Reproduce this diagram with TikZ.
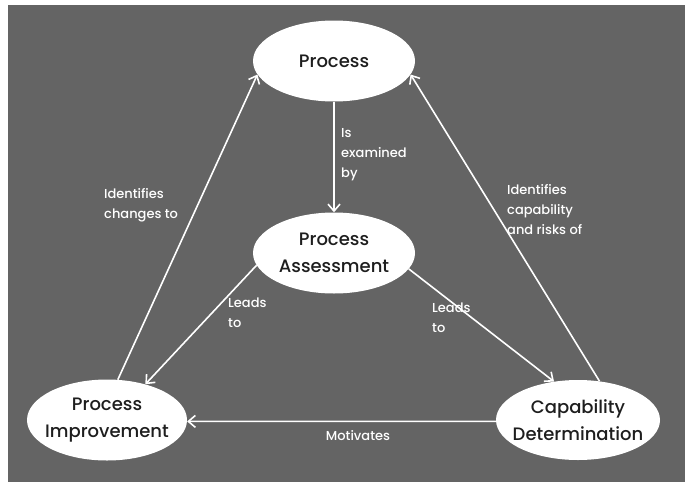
\documentclass[tikz,border=0pt]{standalone}
\usepackage{fontspec}
\setmainfont{Poppins}
\newfontfamily\phasefont{Poppins Medium}
\usetikzlibrary{arrows.meta,shapes.geometric}
\definecolor{bggray}{RGB}{100,100,100}
\definecolor{inktext}{RGB}{30,30,30}
\begin{document}
\begin{tikzpicture}[x=1pt,y=-1pt,
  phase/.style={ellipse, fill=white, minimum width=#1, minimum height=81pt,
    inner xsep=-8pt, inner ysep=0pt, text=inktext, align=center,
    font=\phasefont\fontsize{18}{27}\selectfont},
  phase/.default=162pt,
  link/.style={draw=white, line width=1.6pt,
    -{Straight Barb[length=7pt,width=12pt,line width=1.6pt]}},
  note/.style={text=white, align=left,
    font=\phasefont\fontsize{13}{20}\selectfont, inner sep=0pt}]
\useasboundingbox (0,0) rectangle (685,482);
\fill[bggray] (8,5) rectangle (685,482);

\node[phase] (proc) at (334,61) {Process};
\node[phase] (assess) at (334,253) {Process\\Assessment};
\node[phase=160pt] (improve) at (107,420) {Process\\Improvement};
\node[phase=164pt, minimum height=80pt] (capab) at (578,420) {Capability\\Determination};

\draw[link] (proc) -- (assess);
\draw[link] (assess.189) -- (improve.43);
\draw[link] (assess.-12) -- (capab.122);
\draw[link] (capab.181) -- (improve.-1);
\draw[link] (improve.75) -- (proc.190);
\draw[link] (capab.61) -- (proc.-10);

\node[note, anchor=north west] (l1) at (341,128) {Is\\examined\\by};
\node[note, anchor=north west] (l2) at (104,188) {Identifies\\changes to};
\node[note, anchor=north west] (l3) at (507,184) {Identifies\\capability\\and risks of};
\node[note, anchor=north west] (l4) at (228,298) {Leads\\to};
\node[note, anchor=north west] (l5) at (432,303) {Leads\\to};
\node[note] (l6) at (358,436) {Motivates};
\end{tikzpicture}
\end{document}
